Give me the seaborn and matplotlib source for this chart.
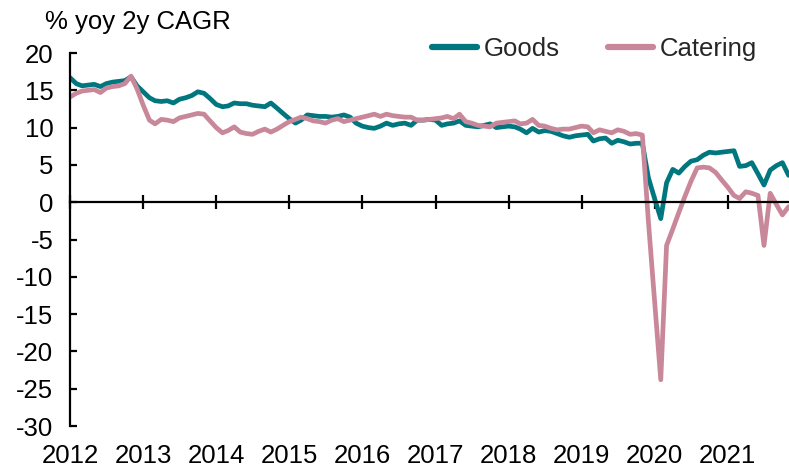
import numpy as np
import pandas as pd
import seaborn as sns
import matplotlib.dates as mdates
from matplotlib import pyplot as plt

sns.set_theme(style='white')
plt.rcParams['font.family'] = ['Liberation Sans', 'DejaVu Sans']
plt.rcParams['axes.unicode_minus'] = False

# monthly, Jan 2012 .. Nov 2021
months = pd.date_range('2012-01-01', '2021-11-01', freq='MS')

goods = [
    16.7, 15.9, 15.6, 15.7, 15.8, 15.5, 15.9, 16.1, 16.2, 16.3, 16.8, 15.6,
    14.8, 14.0, 13.6, 13.5, 13.6, 13.3, 13.8, 14.0, 14.3, 14.8, 14.6, 13.9,
    13.1, 12.8, 12.9, 13.3, 13.2, 13.2, 13.0, 12.9, 12.8, 13.3, 12.6, 11.9,
    11.2, 10.6, 11.0, 11.7, 11.6, 11.5, 11.5, 11.4, 11.5, 11.7, 11.4, 10.6,
    10.2, 10.0, 9.9, 10.2, 10.6, 10.3, 10.5, 10.6, 10.3, 11.0, 11.0, 11.1,
    11.0, 10.3, 10.5, 10.6, 10.9, 10.3, 10.2, 10.1, 10.3, 10.5, 10.0, 10.1,
    10.2, 10.1, 9.8, 9.3, 9.9, 9.4, 9.6, 9.5, 9.2, 8.9, 8.7, 8.9,
    9.0, 9.1, 8.2, 8.5, 8.6, 7.9, 8.3, 8.1, 7.8, 7.9, 7.9, 3.3,
    0.5, -2.2, 2.6, 4.4, 3.9, 4.8, 5.5, 5.7, 6.3, 6.7, 6.6, 6.7,
    6.8, 6.9, 4.8, 4.9, 5.3, 3.8, 2.3, 4.3, 4.9, 5.3, 3.6,
]

catering = [
    14.1, 14.6, 14.9, 15.0, 15.1, 14.7, 15.3, 15.5, 15.6, 15.9, 16.9, 15.2,
    13.0, 11.0, 10.5, 11.1, 11.0, 10.8, 11.3, 11.5, 11.7, 11.9, 11.8, 10.9,
    10.0, 9.3, 9.6, 10.1, 9.4, 9.2, 9.1, 9.5, 9.8, 9.4, 9.8, 10.3,
    10.8, 11.1, 11.4, 11.2, 10.9, 10.8, 10.6, 11.0, 11.2, 10.8, 11.0, 11.2,
    11.4, 11.6, 11.8, 11.5, 11.8, 11.6, 11.5, 11.4, 11.4, 11.0, 11.0, 11.1,
    11.2, 11.3, 11.5, 11.2, 11.8, 10.8, 10.6, 10.3, 10.2, 10.1, 10.6, 10.7,
    10.8, 10.9, 10.5, 10.6, 11.1, 10.3, 10.2, 9.9, 9.7, 9.8, 9.8, 10.0,
    10.2, 10.1, 9.3, 9.7, 9.5, 9.3, 9.7, 9.5, 9.1, 9.2, 9.0, -2.5,
    -13.2, -23.8, -5.8, -3.6, -1.4, 0.8, 2.8, 4.6, 4.7, 4.6, 4.0, 3.0,
    2.0, 0.9, 0.5, 1.4, 1.2, 0.9, -5.8, 1.2, -0.3, -1.7, -0.6,
]

series = ['Goods', 'Catering']
colors = ['#00777F', '#C9879A']
years = list(range(2012, 2022))
yticks = list(range(-30, 25, 5))

df = pd.concat([
    pd.DataFrame({'date': months, 'value': goods, 'series': 'Goods'}),
    pd.DataFrame({'date': months, 'value': catering, 'series': 'Catering'}),
])

fs = 18.5

fig = plt.figure(figsize=(7.89, 4.69), dpi=100)
ax = fig.add_axes([70 / 789, 43 / 469, 719 / 789, 373 / 469])

sns.lineplot(data=df, x='date', y='value', hue='series', hue_order=series,
             palette=colors, linewidth=3.4, ax=ax, legend=True)

ax.set_xlim(pd.Timestamp('2012-01-01'), pd.Timestamp('2021-11-03'))
ax.set_ylim(-30, 20)
ax.set_yticks(yticks)
ax.set_yticklabels([str(t) for t in yticks])
ax.set_xlabel('')
ax.set_ylabel('')

for s in ['top', 'right']:
    ax.spines[s].set_visible(False)
ax.spines['left'].set_color('black')
ax.spines['left'].set_linewidth(1.6)
ax.spines['bottom'].set_position(('data', 0))
ax.spines['bottom'].set_color('black')
ax.spines['bottom'].set_linewidth(1.6)

ax.xaxis.set_major_locator(mdates.YearLocator())
ax.tick_params(axis='x', direction='inout', length=10, width=1.6,
               color='black', bottom=True, labelbottom=False)
ax.tick_params(axis='y', direction='in', length=5, width=1.6,
               color='black', left=True, pad=12, labelsize=fs,
               labelcolor='black')

for yr in years:
    ax.text(pd.Timestamp(f'{yr}-01-01'), -0.08, str(yr),
            transform=ax.get_xaxis_transform(), ha='center', va='center',
            fontsize=fs, color='black')

fig.text(45 / 789, 1 - 22 / 469, '% yoy 2y CAGR', ha='left', va='center',
         fontsize=fs, color='black')

handles, labels = ax.get_legend_handles_labels()
ax.legend(handles, labels, ncol=2, frameon=False, fontsize=fs,
          loc='center right', bbox_to_anchor=(757 / 789, 1 - 49 / 469),
          bbox_transform=fig.transFigure, borderaxespad=0, borderpad=0,
          handlelength=1.75, handletextpad=0.25, columnspacing=1.9)
for line in ax.get_legend().get_lines():
    line.set_linewidth(4.5)

fig.savefig('out.png', dpi=100)
